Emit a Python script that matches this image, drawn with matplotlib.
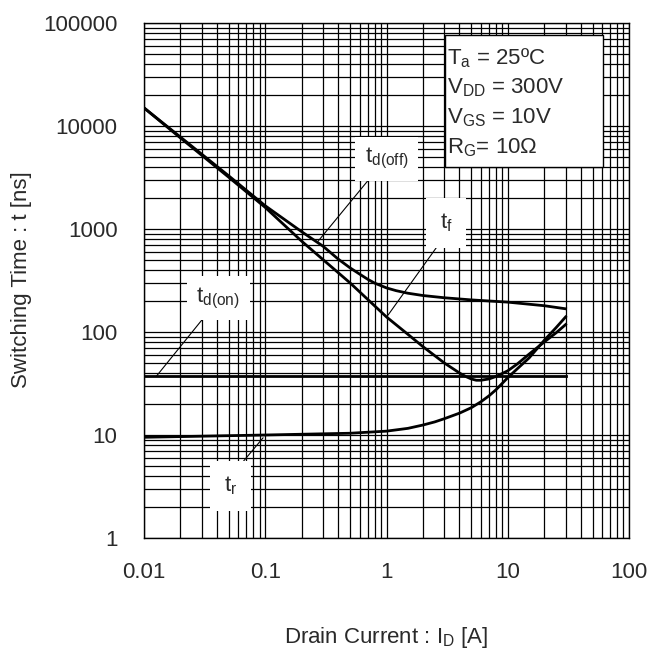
import matplotlib
matplotlib.use("Agg")
import matplotlib.pyplot as plt
from matplotlib.patches import Rectangle
from matplotlib.ticker import FixedLocator, LogLocator, NullFormatter

plt.rcParams["font.family"] = ["Liberation Sans", "DejaVu Sans"]
plt.rcParams["mathtext.fontset"] = "custom"
plt.rcParams["mathtext.rm"] = "Liberation Sans"
plt.rcParams["mathtext.it"] = "Liberation Sans:italic"

# Curve data (I_D in A, t in ns)
id_doff = [0.01, 0.02, 0.05, 0.1, 0.2, 0.3, 0.4, 0.5, 0.6, 0.7, 0.8, 1, 1.2, 1.5, 2, 3, 5, 10, 20, 30]
t_doff = [15000, 7800, 3280, 1680, 940, 680, 510, 420, 365, 325, 298, 268, 252, 238, 226, 215, 205, 195, 180, 168]

id_f = [0.01, 0.02, 0.05, 0.1, 0.2, 0.5, 1, 1.5, 2, 3, 4, 4.5, 5, 5.5, 6, 7, 8, 10, 12, 15, 20, 25, 30]
t_f = [15000, 7650, 3180, 1620, 760, 300, 140, 95, 72, 50, 40, 37, 35, 34, 34, 35, 37, 42, 49, 61, 80, 98, 118]

id_don = [0.01, 30]
t_don = [37, 37]

id_r = [0.01, 0.1, 0.5, 1, 1.5, 2, 2.5, 3, 4, 5, 6, 7, 8, 10, 12, 15, 20, 25, 30]
t_r = [9.5, 10.0, 10.4, 10.9, 11.6, 12.5, 13.4, 14.4, 16.3, 18.4, 21, 24, 27.5, 36, 44, 56, 83, 110, 140]

x_ticks = [0.01, 0.1, 1, 10, 100]
x_ticklabels = ["0.01", "0.1", "1", "10", "100"]
y_ticks = [1, 10, 100, 1000, 10000, 100000]
y_ticklabels = ["1", "10", "100", "1000", "10000", "100000"]

txt_col = "#2a2a2a"
fs = 16

fig = plt.figure(figsize=(6.5, 6.55), dpi=100)
ax = fig.add_axes([144 / 650, 117 / 655, 485 / 650, 515 / 655])
ax.set_xscale("log")
ax.set_yscale("log")
ax.set_xlim(0.01, 100)
ax.set_ylim(1, 100000)

ax.xaxis.set_major_locator(FixedLocator(x_ticks))
ax.set_xticklabels(x_ticklabels)
ax.yaxis.set_major_locator(FixedLocator(y_ticks))
ax.set_yticklabels(y_ticklabels)
ax.xaxis.set_minor_locator(LogLocator(base=10, subs=range(2, 10), numticks=20))
ax.yaxis.set_minor_locator(LogLocator(base=10, subs=range(2, 10), numticks=20))
ax.xaxis.set_minor_formatter(NullFormatter())
ax.yaxis.set_minor_formatter(NullFormatter())
ax.tick_params(which="both", length=0, labelsize=fs, labelcolor=txt_col)
ax.tick_params(axis="x", pad=17)
ax.tick_params(axis="y", pad=19)

ax.grid(True, which="both", color="black", lw=0.9, zorder=0)
ax.set_axisbelow(True)
for s in ax.spines.values():
    s.set_color("black")
    s.set_linewidth(1.0)

lw = 2.0
ax.plot(id_doff, t_doff, color="black", lw=lw, zorder=4)
ax.plot(id_f, t_f, color="black", lw=lw, zorder=4)
ax.plot(id_don, t_don, color="black", lw=lw, zorder=4)
ax.plot(id_r, t_r, color="black", lw=lw, zorder=4)

box = dict(facecolor="white", edgecolor="none", pad=7)
arrow = dict(arrowstyle="-", color="black", lw=0.8, shrinkA=0, shrinkB=0)

ax.annotate(r"$\mathregular{t_{d(off)}}$", xy=(0.27, 750), xytext=(1.0, 4800),
            ha="center", va="center", fontsize=fs, color=txt_col, bbox=box,
            arrowprops=dict(arrow, relpos=(0.25, 0.0)), zorder=5)
ax.annotate(r"$\mathregular{t_f}$", xy=(1.03, 146), xytext=(3.1, 1150),
            ha="center", va="center", fontsize=fs, color=txt_col, bbox=dict(box, pad=10),
            arrowprops=dict(arrow, relpos=(0.5, 0.0)), zorder=5)
ax.annotate(r"$\mathregular{t_{d(on)}}$", xy=(0.0126, 37), xytext=(0.041, 214),
            ha="center", va="center", fontsize=fs, color=txt_col, bbox=box,
            arrowprops=dict(arrow, relpos=(0.3, 0.0)), zorder=5)
ax.annotate(r"$\mathregular{t_r}$", xy=(0.096, 9.4), xytext=(0.052, 3.2),
            ha="center", va="center", fontsize=fs, color=txt_col, bbox=dict(box, pad=10),
            arrowprops=dict(arrow, relpos=(0.6, 1.0)), zorder=5)

# Conditions box
ax.add_patch(Rectangle((0.6206, 0.720), 0.3254, 0.257, transform=ax.transAxes,
                       facecolor="white", edgecolor="black", lw=1.0, zorder=5))
cond = [r"$\mathregular{T_a}$ = 25ºC",
        r"$\mathregular{V_{DD}}$ = 300V",
        r"$\mathregular{V_{GS}}$ = 10V",
        r"$\mathregular{R_G}$= 10Ω"]
for i, line in enumerate(cond):
    ax.text(0.625, 0.932 - i * 0.058, line, transform=ax.transAxes, fontsize=fs,
            color=txt_col, ha="left", va="center", zorder=6)

fig.text(22 / 650, 1 - 280 / 655, "Switching Time : t [ns]", rotation=90,
         ha="center", va="center", fontsize=fs, color=txt_col)
fig.text(386 / 650, 1 - 638 / 655, r"Drain Current : $\mathregular{I_D}$ [A]",
         ha="center", va="center", fontsize=fs, color=txt_col)

fig.savefig("out.png", dpi=100, facecolor="white")
